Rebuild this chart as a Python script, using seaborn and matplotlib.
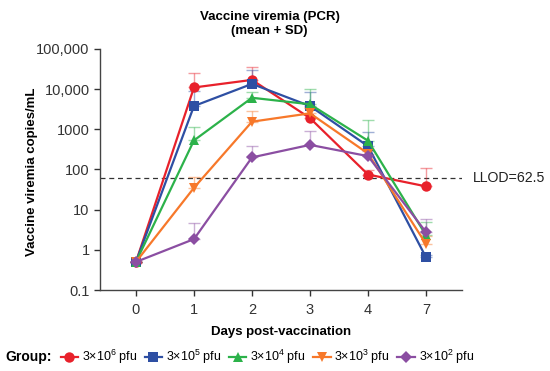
import numpy as np
import pandas as pd
import seaborn as sns
import matplotlib.pyplot as plt
from matplotlib.lines import Line2D

days = ['0', '1', '2', '3', '4', '7']
groups = ['3×10$^6$ pfu', '3×10$^5$ pfu', '3×10$^4$ pfu',
          '3×10$^3$ pfu', '3×10$^2$ pfu']

mean_1e6 = [0.5, 11000, 17000, 1900, 75, 38]
sd_1e6 = [0, 14000, 18000, 1500, 20, 70]
mean_1e5 = [0.5, 3800, 13500, 3800, 380, 0.65]
sd_1e5 = [0, 5000, 16000, 4500, 500, 0.1]
mean_1e4 = [0.5, 530, 6100, 4200, 520, 2.3]
sd_1e4 = [0, 600, 2500, 5800, 1200, 2.5]
mean_1e3 = [0.5, 35, 1550, 2500, 250, 1.4]
sd_1e3 = [0, 29, 1250, 1000, 60, 0.8]
mean_1e2 = [0.5, 1.85, 200, 410, 215, 2.75]
sd_1e2 = [0, 2.9, 195, 500, 80, 3.0]

llod = 62.5
yticks = [0.1, 1, 10, 100, 1000, 10000, 100000]
ytick_labels = ['0.1', '1', '10', '100', '1000', '10,000', '100,000']

means = [mean_1e6, mean_1e5, mean_1e4, mean_1e3, mean_1e2]
sds = [sd_1e6, sd_1e5, sd_1e4, sd_1e3, sd_1e2]
colors = ['#e8212b', '#2e4fa3', '#2cb24a', '#f7782a', '#8b4ea2']
markers = ['o', 's', '^', 'v', 'D']
msizes = [7.5, 7.5, 7.5, 7.5, 6.5]

rows = []
for g, m in zip(groups, means):
    for i, v in enumerate(m):
        rows.append({'group': g, 'pos': i, 'value': v})
df = pd.DataFrame(rows)

plt.rcParams['font.family'] = ['Liberation Sans', 'DejaVu Sans']
plt.rcParams['mathtext.fontset'] = 'custom'
plt.rcParams['mathtext.rm'] = 'Liberation Sans'

fig = plt.figure(figsize=(5.5, 3.71), dpi=100)
ax = fig.add_axes([0.1818, 0.2183, 0.6582, 0.6497])

# upper SD bars, faded, behind the lines
for i, (m, s, c) in enumerate(zip(means, sds, colors)):
    pos = np.arange(len(days))
    ax.errorbar(pos, m, yerr=[np.zeros(len(s)), s], fmt='none', ecolor=c,
                alpha=0.45, elinewidth=1.0, capsize=4, capthick=1.0, zorder=1)

sns.lineplot(data=df, x='pos', y='value', hue='group', style='group',
             palette=colors, markers=markers, dashes=False, linewidth=1.6,
             markersize=7.5, markeredgewidth=0, ax=ax, legend=False, zorder=3)
# diamonds a bit smaller
for ln in ax.get_lines():
    if ln.get_marker() == 'D':
        ln.set_markersize(6.5)

ax.axhline(llod, color='#333333', ls=(0, (4, 3)), lw=0.9, zorder=0)
ax.text(5.8, llod, 'LLOD=62.5', va='center', ha='left', fontsize=10.2,
        color='#222222', clip_on=False)

ax.set_yscale('log')
ax.set_ylim(0.1, 100000)
ax.set_xlim(-0.62, 5.62)
ax.set_yticks(yticks)
ax.set_yticklabels(ytick_labels)
ax.minorticks_off()
ax.set_xticks(range(len(days)))
ax.set_xticklabels(days)
ax.tick_params(labelsize=10.5, colors='#333333', length=4, width=1)
ax.tick_params(axis='x', pad=5)
for sp in ['top', 'right']:
    ax.spines[sp].set_visible(False)
for sp in ['left', 'bottom']:
    ax.spines[sp].set_color('#444444')
    ax.spines[sp].set_linewidth(1)

ax.set_xlabel('Days post-vaccination', fontsize=9.5, fontweight='bold', labelpad=7)
ax.set_ylabel('Vaccine viremia copies/mL', fontsize=9.5, fontweight='bold')
ax.yaxis.set_label_coords(-0.172, 0.49)
fig.text(0.49, 0.97, 'Vaccine viremia (PCR)\n(mean + SD)', ha='center', va='top',
         fontsize=9.5, fontweight='bold', linespacing=1.25)

handles = [Line2D([], [], color=c, marker=mk, markersize=ms, markeredgewidth=0, lw=1.6)
           for c, mk, ms in zip(colors, markers, msizes)]
fig.text(0.01, 0.037, 'Group:', fontsize=10, fontweight='bold', va='center')
fig.legend(handles, groups, ncol=5, loc='center left', bbox_to_anchor=(0.11, 0.037),
           frameon=False, fontsize=9, handlelength=1.4, handletextpad=0.3,
           columnspacing=0.6, borderpad=0, borderaxespad=0)

fig.savefig('out.png', dpi=100)
